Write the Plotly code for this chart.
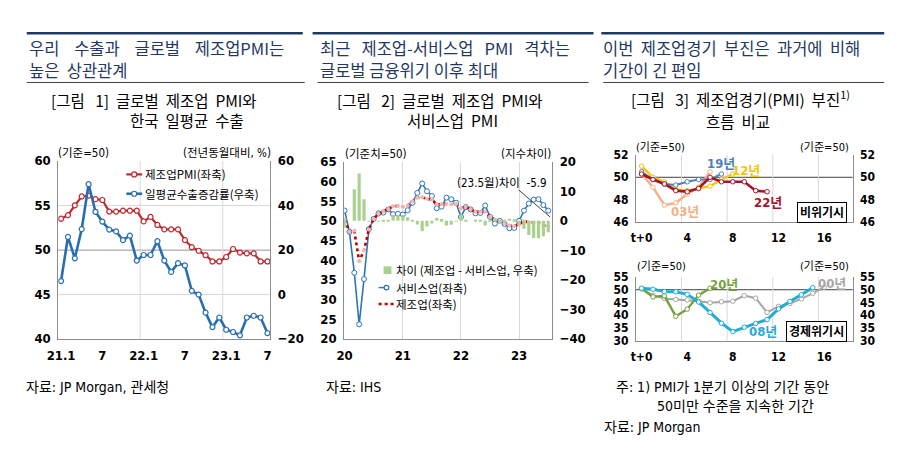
import plotly.graph_objects as go

# ---------------- data ----------------
p1_x = list(range(31))
p1_ticks = ["21.1", "7", "22.1", "7", "23.1", "7"]
p1_pmi = [53.5, 53.9, 55.0, 56.0, 56.1, 55.7, 55.6, 54.3, 54.3, 54.4, 54.4, 54.4,
          53.2, 53.7, 52.8, 52.3, 52.3, 52.3, 51.1, 50.3, 49.9, 49.4, 48.7, 48.7,
          49.2, 50.1, 49.7, 49.6, 49.6, 48.7, 48.7]
p1_export = [6.0, 25.8, 16.2, 29.3, 49.5, 37.1, 32.7, 29.1, 28.3, 24.4, 26.4, 15.2,
             17.7, 17.7, 23.9, 15.2, 10.1, 14.0, 13.0, 1.6, -0.1, -8.2, -14.7, -10.4,
             -15.9, -16.9, -18.4, -10.4, -9.6, -10.4, -17.4]

p2_x = list(range(43))
p2_ticks = ["20", "21", "22", "23"]
p2_mfg = [50.3, 47.2, 47.5, 39.7, 42.5, 47.8, 50.5, 51.8, 52.4, 53.0, 53.7, 53.8,
          53.6, 53.9, 55.0, 55.9, 56.0, 55.6, 55.4, 54.2, 54.2, 54.3, 54.2, 54.3,
          53.2, 53.6, 52.9, 52.3, 52.3, 52.3, 51.1, 50.3, 49.8, 49.4, 48.8, 48.7,
          49.1, 49.9, 49.6, 49.6, 49.6, 48.8, 48.7]
p2_svc = [52.6, 47.2, 36.8, 23.7, 35.2, 47.9, 50.5, 51.9, 52.1, 52.9, 51.7, 51.8,
          51.6, 52.7, 54.6, 57.1, 59.5, 57.5, 56.3, 53.2, 53.6, 55.9, 55.5, 54.6,
          51.0, 53.5, 52.9, 51.9, 52.0, 53.9, 51.0, 49.3, 50.0, 49.2, 48.1, 48.2,
          50.0, 52.6, 54.4, 55.4, 55.5, 54.0, 52.6]
p2_gap = [-2.3, 0.0, 10.7, 16.0, 7.3, -0.1, 0.0, -0.1, 0.3, 0.1, 2.0, 2.0,
          2.0, 1.2, 0.4, -1.2, -3.5, -1.9, -0.9, 1.0, 0.6, -1.6, -1.3, -0.3,
          2.2, 0.1, 0.0, 0.4, 0.3, -1.6, 0.1, 1.0, -0.2, 0.2, 0.7, 0.5,
          -0.9, -2.7, -4.8, -5.8, -5.9, -5.2, -3.9]

p3_ticks = ["t+0", "4", "8", "12", "16"]
s03 = [50.3, 49.1, 47.5, 47.7, 48.5, 49.1, 50.5]
s12 = [51.0, 50.0, 49.6, 48.9, 48.8, 49.0, 49.2, 49.8, 50.3]
s19 = [50.5, 49.8, 49.4, 49.3, 49.6, 49.8, 49.8, 50.3]
s22 = [50.3, 49.8, 49.4, 48.8, 48.7, 49.0, 50.0, 49.6, 49.6, 49.6, 48.8, 48.7]
s00 = [50.4, 47.8, 46.6, 46.2, 46.0, 45.5, 44.9, 45.3, 45.5, 47.7, 46.7, 41.1,
       43.5, 44.6, 46.4, 48.6, 51.0]
s20 = [50.4, 47.2, 47.6, 39.6, 42.4, 47.9, 50.6]
s08 = [50.6, 50.2, 49.3, 49.2, 48.2, 45.2, 41.1, 36.9, 33.6, 35.3, 36.8, 38.3,
       42.5, 45.4, 48.0, 50.8]

# ---------------- style ----------------
NARROW = "Liberation Sans Narrow, DejaVu Sans Condensed, Noto Sans CJK KR, sans-serif"
KR = "Noto Sans CJK KR, sans-serif"
NAVY = "#1F3864"
AX = "#8C8C8C"
GRID = "#D9D9D9"
C_PMI, C_EXP = "#C0282D", "#2A6EB0"
C_GAP, C_SVC, C_MFG = "#A9D18E", "#2E75B6", "#C00000"
NB = "\u00a0"


def px(x):
    return x / 900


def py(y):
    return 1 - y / 463


fig = go.Figure()

# ---- panel 1 ----
fig.add_trace(go.Scatter(x=p1_x, y=p1_pmi, xaxis="x", yaxis="y", name="제조업PMI(좌축)",
                         mode="lines+markers", line=dict(color=C_PMI, width=2.2),
                         marker=dict(symbol="circle", size=5, color="white",
                                     line=dict(color=C_PMI, width=1.2))))
fig.add_trace(go.Scatter(x=p1_x, y=p1_export, xaxis="x", yaxis="y2", name="일평균수출증감률(우축)",
                         mode="lines+markers", line=dict(color=C_EXP, width=2.6),
                         marker=dict(symbol="circle", size=5, color="white",
                                     line=dict(color=C_EXP, width=1.2))))

# ---- panel 2 ----
fig.add_trace(go.Bar(x=p2_x, y=p2_gap, xaxis="x3", yaxis="y4", name="차이 (제조업 - 서비스업, 우축)",
                     marker=dict(color=C_GAP, line=dict(width=0)), width=0.65))
fig.add_trace(go.Scatter(x=p2_x, y=p2_svc, xaxis="x3", yaxis="y3", name="서비스업(좌축)",
                         mode="lines+markers", line=dict(color=C_SVC, width=1.6),
                         marker=dict(symbol="circle", size=5, color="white",
                                     line=dict(color=C_SVC, width=1))))
fig.add_trace(go.Scatter(x=p2_x, y=p2_mfg, xaxis="x3", yaxis="y3", name="제조업(좌축)",
                         mode="lines+markers", line=dict(color=C_MFG, width=2.6, dash="dot"),
                         marker=dict(symbol="circle", size=4, color="#F4B6B0")))


# ---- panel 3 ----
def p3line(vals, color, xa, ya, width=2.4):
    fig.add_trace(go.Scatter(x=list(range(len(vals))), y=vals, xaxis=xa, yaxis=ya,
                             mode="lines+markers", line=dict(color=color, width=width),
                             marker=dict(symbol="circle", size=4.5, color="white",
                                         line=dict(color=color, width=1)),
                             hoverinfo="x+y"))


p3line(s03, "#F4B183", "x5", "y5")
p3line(s12, "#F5C40F", "x5", "y5")
p3line(s19, "#4F81BD", "x5", "y5", 2.0)
p3line(s22, "#A8122A", "x5", "y5", 2.6)
fig.add_trace(go.Scatter(x=list(range(len(s22))), y=s22, xaxis="x5", yaxis="y6", mode="lines",
                         line=dict(width=0), opacity=0, hoverinfo="skip"))
p3line(s00, "#A6A6A6", "x7", "y7", 2.0)
p3line(s20, "#76A23E", "x7", "y7", 2.4)
p3line(s08, "#1FAED6", "x7", "y7", 3.0)
fig.add_trace(go.Scatter(x=list(range(len(s08))), y=s08, xaxis="x7", yaxis="y8", mode="lines",
                         line=dict(width=0), opacity=0, hoverinfo="skip"))

tickfont = dict(family=NARROW, size=13, color="black", weight="bold")
tickfont3 = dict(family=NARROW, size=12, color="black", weight="bold")


def xax(domain, anchor, rng, tickvals, ticktext, grid=False, font=tickfont):
    return dict(domain=domain, anchor=anchor, range=rng, tickvals=tickvals, ticktext=ticktext,
                showgrid=grid, gridcolor=GRID, showline=True, linecolor=AX, linewidth=1,
                ticks="", tickfont=font, zeroline=False, fixedrange=True, ticklabelstandoff=5)


def yax(domain, anchor, rng, dtick, side="left", overlaying=None, grid=False, font=tickfont):
    d = dict(anchor=anchor, range=rng, dtick=dtick, tick0=rng[0], side=side, showgrid=grid,
             gridcolor=GRID, showline=True, linecolor=AX, linewidth=1, ticks="",
             tickfont=font, zeroline=False, fixedrange=True, ticklabelstandoff=4)
    if overlaying:
        d["overlaying"] = overlaying
    else:
        d["domain"] = domain
    return d


fig.update_layout(
    width=900, height=463, margin=dict(l=0, r=0, t=0, b=0),
    paper_bgcolor="white", plot_bgcolor="white",
    font=dict(family=NARROW, size=13, color="black"),
    showlegend=False,
    xaxis=xax([px(47), px(262)], "y", [-0.4, 30.4], [0, 6, 12, 18, 24, 30], p1_ticks),
    yaxis=yax([py(343), py(159)], "x", [40, 60], 5, grid=True),
    yaxis2=yax(None, "x", [-20, 60], 20, side="right", overlaying="y"),
    xaxis3=xax([px(337), px(548)], "y3", [-0.1, 42.8], [0, 12, 24, 36], p2_ticks, grid=True),
    yaxis3=yax([py(343), py(160)], "x3", [20, 65], 5),
    yaxis4=yax(None, "x3", [-40, 20], 10, side="right", overlaying="y3"),
    xaxis5=xax([px(633), px(853)], "y5", [-0.5, 18.5], [0, 4, 8, 12, 16], p3_ticks, font=tickfont3),
    yaxis5=yax([py(222), py(153)], "x5", [46, 52], 2, font=tickfont3),
    yaxis6=yax(None, "x5", [46, 52], 2, side="right", overlaying="y5", font=tickfont3),
    xaxis7=xax([px(633), px(853)], "y7", [-0.5, 18.5], [0, 4, 8, 12, 16], p3_ticks, font=tickfont3),
    yaxis7=yax([py(345), py(279)], "x7", [30, 55], 5, font=tickfont3),
    yaxis8=yax(None, "x7", [30, 55], 5, side="right", overlaying="y7", font=tickfont3),
)

shapes = []


def hline(x0, x1, y, color, width, dash="solid"):
    shapes.append(dict(type="line", xref="paper", yref="paper", x0=px(x0), x1=px(x1),
                       y0=py(y), y1=py(y), line=dict(color=color, width=width, dash=dash)))


def dot(x, y, color, r=2.6, fill="white"):
    shapes.append(dict(type="circle", xref="paper", yref="paper", x0=px(x - r), x1=px(x + r),
                       y0=py(y + r), y1=py(y - r), fillcolor=fill, line=dict(color=color, width=1.2)))


# header rules
for x0, x1 in [(15, 295), (305, 590), (598, 885)]:
    hline(x0, x1, 27, NAVY, 2.5)
for x0, x1 in [(15, 297), (310, 585), (600, 885)]:
    hline(x0, x1, 78, "#404040", 1)
# reference lines at 50
for xr, yr in [("x", "y"), ("x5", "y5"), ("x7", "y7")]:
    shapes.append(dict(type="line", xref=xr + " domain", yref=yr, x0=0, x1=1, y0=50, y1=50,
                       line=dict(color="#404040", width=1), layer="below"))
# vertical gridlines
for xv in [11.5, 23.5]:
    shapes.append(dict(type="line", xref="x", yref="y domain", x0=xv, x1=xv, y0=0, y1=1,
                       line=dict(color=GRID, width=1), layer="below"))
for xr, yr in [("x5", "y5"), ("x7", "y7")]:
    for xv in [3.5, 7.5, 11.5, 15.5]:
        shapes.append(dict(type="line", xref=xr, yref=yr + " domain", x0=xv, x1=xv, y0=0, y1=1,
                           line=dict(color=GRID, width=1), layer="below"))
# pointer line for the panel-2 note
shapes.append(dict(type="line", xref="paper", yref="paper", x0=px(514), y0=py(189),
                   x1=px(546), y1=py(217), line=dict(color="#404040", width=1)))

# legend keys panel 1
hline(116, 132, 173, C_PMI, 2.2)
dot(124, 173, C_PMI)
hline(116, 132, 193, C_EXP, 2.6)
dot(124, 193, C_EXP)
# legend keys panel 2
shapes.append(dict(type="rect", xref="paper", yref="paper", x0=px(377), x1=px(385),
                   y0=py(276), y1=py(268), fillcolor=C_GAP, line=dict(width=0)))
hline(372, 389, 290, C_SVC, 1.4, "dash")
dot(380, 290, C_SVC, 2.4)
hline(372, 389, 307, C_MFG, 2.6, "dot")
fig.update_layout(shapes=shapes)

anns = []


def ann(text, x, y, size=13, color="black", family=NARROW, xanchor="left", weight="normal", **kw):
    d = dict(text=text, x=px(x), y=py(y), xref="paper", yref="paper", showarrow=False,
             xanchor=xanchor, yanchor="middle", borderpad=0,
             font=dict(size=size, color=color, family=family, weight=weight))
    d.update(kw)
    anns.append(d)


G4 = NB * 4
G3 = NB * 3
G2 = NB * 2
# headlines (two lines each)
ann(f"우리{G4}수출과{G4}글로벌{G4}제조업PMI는", 16, 42, 16.5, NAVY, KR)
ann(f"높은{G2}상관관계", 16, 65.5, 16.5, NAVY, KR)
ann(f"최근{G3}제조업-서비스업{G3}PMI{G3}격차는", 311, 42, 16.5, NAVY, KR)
ann(f"글로벌{NB}금융위기{NB}이후{NB}최대", 311, 65.5, 16.5, NAVY, KR)
ann(f"이번{G2}제조업경기{G2}부진은{G2}과거에{G2}비해", 599, 42, 16.5, NAVY, KR)
ann(f"기간이{NB}긴{NB}편임", 599, 65.5, 16.5, NAVY, KR)
# figure titles
ann(f"[그림{G3}1]{G2}글로벌{G2}제조업{G2}PMI와", 39, 96, 15.5, "black", KR)
ann(f"한국{G2}일평균{G2}수출", 119, 117, 15.5, "black", KR)
ann(f"[그림{G3}2]{G2}글로벌{G2}제조업{G2}PMI와", 329, 96, 15.5, "black", KR)
ann(f"서비스업{G2}PMI", 400, 117, 15.5, "black", KR)
ann(f"[그림{G3}3]{G2}제조업경기(PMI){G2}부진<sup>1)</sup>", 627, 94, 15.5, "black", KR)
ann(f"흐름{G2}비교", 703, 118, 15.5, "black", KR)
# legends as text
ann("제조업PMI(좌축)", 134, 173, 11.5, family=KR)
ann("일평균수출증감률(우축)", 134, 193, 11.5, family=KR)
ann("차이 (제조업 - 서비스업, 우축)", 389, 272, 11.5, family=KR)
ann("서비스업(좌축)", 389, 290, 11.5, family=KR)
ann("제조업(좌축)", 389, 307, 11.5, family=KR)
# axis unit labels
ann("(기준=50)", 46, 151, 11.5)
ann("(전년동월대비, %)", 264, 151, 11.5, xanchor="right")
ann("(기준치=50)", 337, 152, 11.5)
ann("(지수차이)", 548, 152, 11.5, xanchor="right")
ann("(기준=50)", 632, 145, 11)
ann("(기준=50)", 850, 145, 11, xanchor="right")
ann("(기준=50)", 633, 268, 11)
ann("(기준=50)", 850, 268, 11, xanchor="right")
# panel 2 note
ann(f"(23.5월)차이{NB} -5.9", 451, 182, 11.5)
# panel 3 series labels
ann("19년", 719, 162, 13, "#4F81BD", weight="bold", xanchor="center")
ann("12년", 745, 169, 13, "#F5C40F", weight="bold", xanchor="center")
ann("03년", 683, 211, 13, "#F4B183", weight="bold", xanchor="center")
ann("22년", 767, 202, 13, "#A8122A", weight="bold", xanchor="center")
ann("20년", 722, 287, 13, "#76A23E", weight="bold", xanchor="center")
ann("00년", 832, 286, 13, "#A6A6A6", weight="bold", xanchor="center")
ann("08년", 762, 335, 13, "#1FAED6", weight="bold", xanchor="center")
ann("비위기시", 822, 212, 12, weight="bold", xanchor="center",
    bordercolor="black", borderwidth=1, borderpad=2, bgcolor="white")
ann("경제위기시", 816, 335, 12, weight="bold", xanchor="center",
    bordercolor="black", borderwidth=1, borderpad=2, bgcolor="white")
# sources
ann("자료: JP Morgan, 관세청", 13, 393, 14)
ann("자료: IHS", 318, 393, 14)
ann("주: 1) PMI가 1분기 이상의 기간 동안", 612, 393, 14)
ann("50미만 수준을 지속한 기간", 653, 412, 14)
ann("자료: JP Morgan", 600, 434, 14)

fig.update_layout(annotations=anns)
fig.write_html("out.html", config={"displayModeBar": False},
               post_script="document.body.style.margin='0';document.body.style.overflow='hidden';")
